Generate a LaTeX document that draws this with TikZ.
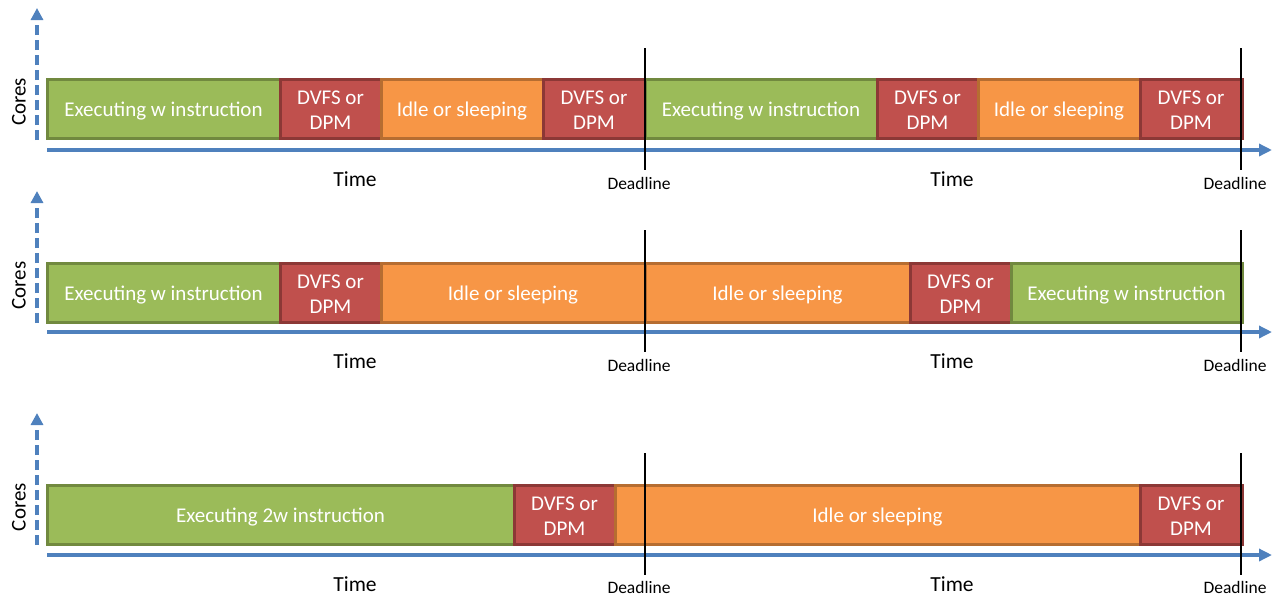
\documentclass[tikz,border=0pt]{standalone}
\usepackage{fontspec}
\setmainfont{Carlito}
\usepackage{xcolor}
\usepackage{tikz}
\usetikzlibrary{positioning,arrows.meta}

\definecolor{exgreen}{HTML}{9BBB59}
\definecolor{exgreendk}{HTML}{71893F}
\definecolor{pmred}{HTML}{C0504D}
\definecolor{pmreddk}{HTML}{8C3836}
\definecolor{idleorange}{HTML}{F79646}
\definecolor{idleorangedk}{HTML}{B66D31}
\definecolor{axisblue}{HTML}{4F81BD}

\tikzset{
  seg/.style={draw, line width=3pt, minimum height=59pt, inner sep=0pt, outer sep=0pt,
    text=white, align=center, font=\fontsize{21}{25}\selectfont,
    text height=15.4pt, text depth=0pt},
  exec/.style={seg, fill=exgreen, draw=exgreendk},
  pm/.style={seg, fill=pmred, draw=pmreddk, text height=41.4pt},
  idle/.style={seg, fill=idleorange, draw=idleorangedk},
  taxis/.style={draw=axisblue, line width=3.5pt, -{Triangle[length=13pt,width=12pt]}},
  caxis/.style={draw=axisblue, line width=3.5pt, dash pattern=on 10pt off 5pt,
    -{Triangle[length=12pt,width=12pt]}},
  dline/.style={draw=black, line width=1.6pt},
  dlbl/.style={anchor=base, inner sep=0pt, font=\fontsize{17.5}{20}\selectfont},
  tlbl/.style={anchor=base, inner sep=0pt, font=\fontsize{21.5}{24}\selectfont},
  clbl/.style={inner sep=0pt, font=\fontsize{21}{24}\selectfont, rotate=90}
}

\begin{document}
\begin{tikzpicture}[x=1pt,y=-1pt]
    \useasboundingbox (0,0) rectangle (1273,595);

    % first schedule
    \node[exec, minimum width=233pt, anchor=west] (E1_1) at (47,109) {Executing w instruction};
    \node[pm, minimum width=101pt, right=0pt of E1_1] (P1_1) {DVFS or\\DPM};
    \node[idle, minimum width=162pt, right=0pt of P1_1] (I1_1) {Idle or sleeping};
    \node[pm, minimum width=102pt, right=0pt of I1_1] (P1_2) {DVFS or\\DPM};
    \node[exec, minimum width=232pt, right=0pt of P1_2] (E1_2) {Executing w instruction};
    \node[pm, minimum width=101pt, right=0pt of E1_2] (P1_3) {DVFS or\\DPM};
    \node[idle, minimum width=162pt, right=0pt of P1_3] (I1_2) {Idle or sleeping};
    \node[pm, minimum width=102pt, right=0pt of I1_2] (P1_4) {DVFS or\\DPM};

    \coordinate (T1_s) at (47,150);
    \coordinate (T1_e) at (1272,150);
    \coordinate (C1_s) at (37,140);
    \coordinate (C1_e) at (37,8);
    \draw[taxis] (T1_s) -- (T1_e);
    \draw[caxis] (C1_s) -- (C1_e);
    \node[clbl] (C1) at (19,102) {Cores};
    \node[tlbl] (L1_1) at (355,186) {Time};
    \node[tlbl] (L1_2) at (952,186) {Time};
    \coordinate (D1_1t) at (645,48);
    \coordinate (D1_1b) at (645,170);
    \coordinate (D1_2t) at (1241,48);
    \coordinate (D1_2b) at (1241,170);
    \draw[dline] (D1_1t) -- (D1_1b);
    \draw[dline] (D1_2t) -- (D1_2b);
    \node[dlbl] (N1_1) at (639,189) {Deadline};
    \node[dlbl] (N1_2) at (1235,189) {Deadline};

    % second schedule
    \node[exec, minimum width=233pt, anchor=west] (E2_1) at (47,292.5) {Executing w instruction};
    \node[pm, minimum width=101pt, right=0pt of E2_1] (P2_1) {DVFS or\\DPM};
    \node[idle, minimum width=264pt, right=0pt of P2_1] (I2_1) {Idle or sleeping};
    \node[idle, minimum width=265pt, right=0pt of I2_1] (I2_2) {Idle or sleeping};
    \node[pm, minimum width=101pt, right=0pt of I2_2] (P2_2) {DVFS or\\DPM};
    \node[exec, minimum width=231pt, right=0pt of P2_2] (E2_2) {Executing w instruction};

    \coordinate (T2_s) at (47,332);
    \coordinate (T2_e) at (1272,332);
    \coordinate (C2_s) at (37,323);
    \coordinate (C2_e) at (37,191);
    \draw[taxis] (T2_s) -- (T2_e);
    \draw[caxis] (C2_s) -- (C2_e);
    \node[clbl] (C2) at (19,285.5) {Cores};
    \node[tlbl] (L2_1) at (355,368) {Time};
    \node[tlbl] (L2_2) at (952,368) {Time};
    \coordinate (D2_1t) at (645,230);
    \coordinate (D2_1b) at (645,352);
    \coordinate (D2_2t) at (1241,230);
    \coordinate (D2_2b) at (1241,352);
    \draw[dline] (D2_1t) -- (D2_1b);
    \draw[dline] (D2_2t) -- (D2_2b);
    \node[dlbl] (N2_1) at (639,371) {Deadline};
    \node[dlbl] (N2_2) at (1235,371) {Deadline};

    % third schedule
    \node[exec, minimum width=467pt, anchor=west] (E3_1) at (47,514.5) {Executing 2w instruction};
    \node[pm, minimum width=101pt, right=0pt of E3_1] (P3_1) {DVFS or\\DPM};
    \node[idle, minimum width=525pt, right=0pt of P3_1] (I3_1) {Idle or sleeping};
    \node[pm, minimum width=102pt, right=0pt of I3_1] (P3_2) {DVFS or\\DPM};

    \coordinate (T3_s) at (47,555);
    \coordinate (T3_e) at (1272,555);
    \coordinate (C3_s) at (37,545);
    \coordinate (C3_e) at (37,413);
    \draw[taxis] (T3_s) -- (T3_e);
    \draw[caxis] (C3_s) -- (C3_e);
    \node[clbl] (C3) at (19,507) {Cores};
    \node[tlbl] (L3_1) at (355,591) {Time};
    \node[tlbl] (L3_2) at (952,591) {Time};
    \coordinate (D3_1t) at (645,453);
    \coordinate (D3_1b) at (645,575);
    \coordinate (D3_2t) at (1241,453);
    \coordinate (D3_2b) at (1241,575);
    \draw[dline] (D3_1t) -- (D3_1b);
    \draw[dline] (D3_2t) -- (D3_2b);
    \node[dlbl] (N3_1) at (639,593) {Deadline};
    \node[dlbl] (N3_2) at (1235,593) {Deadline};
\end{tikzpicture}
\end{document}
